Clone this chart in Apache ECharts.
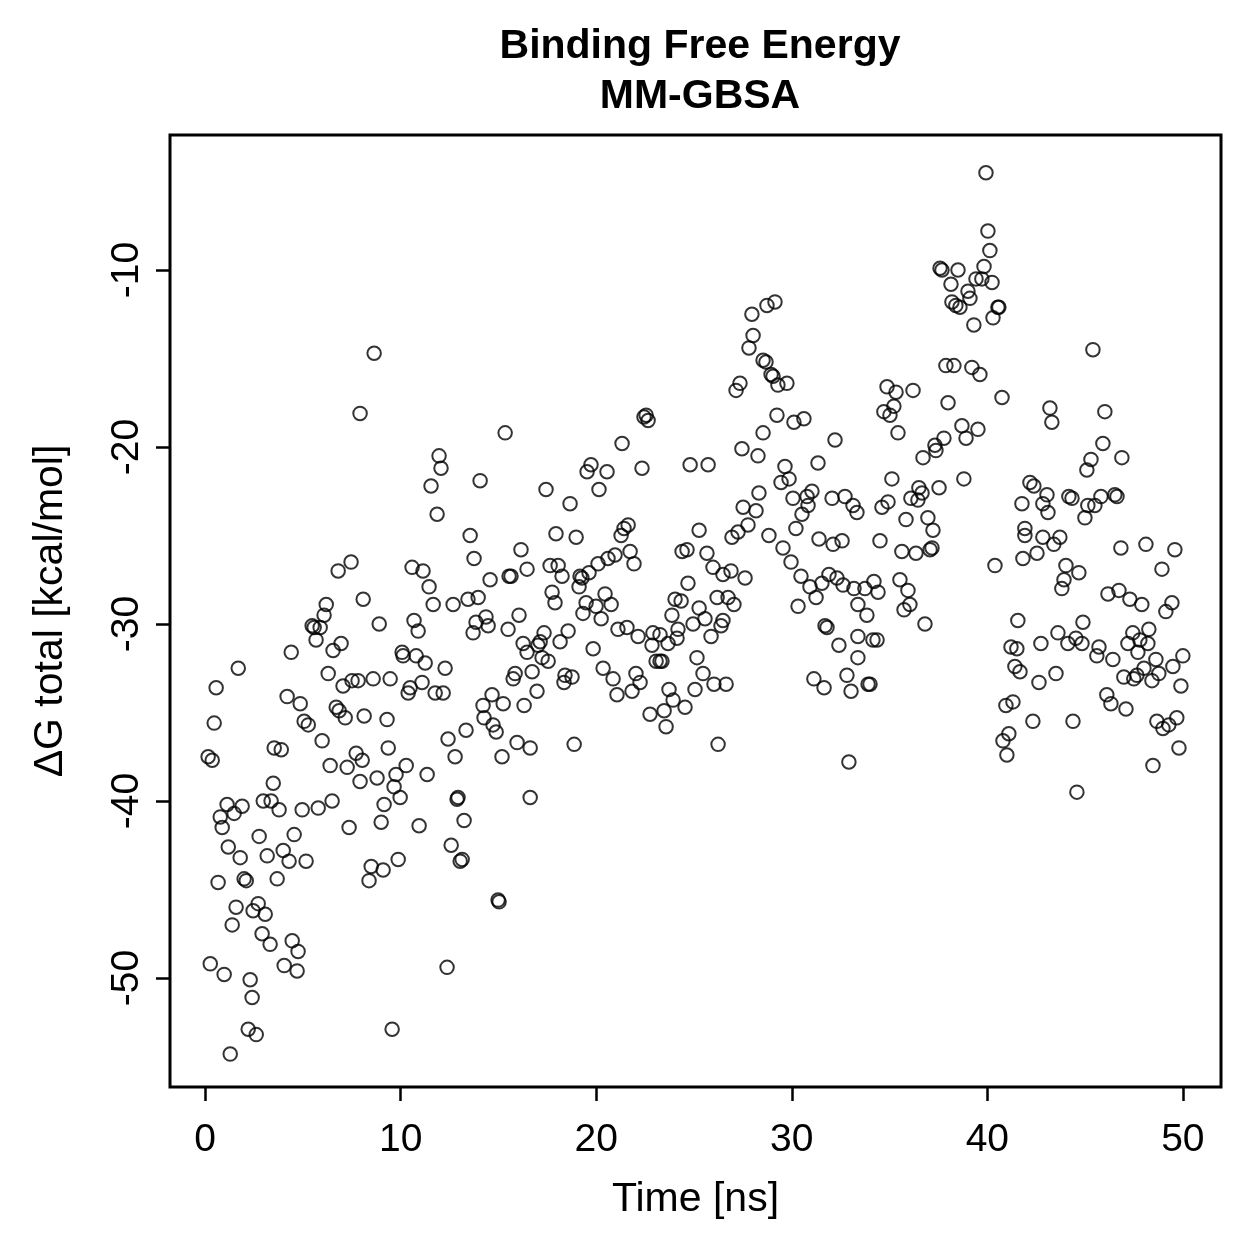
<!DOCTYPE html>
<html>
<head>
<meta charset="utf-8">
<script src="https://cdn.jsdelivr.net/npm/echarts@6/dist/echarts.min.js"></script>
<style>
  html, body { margin: 0; padding: 0; background: #fff; }
  #chart { width: 1259px; height: 1259px; }
</style>
</head>
<body>
<div id="chart"></div>
<script>
// time in ns, delta G in kcal/mol
var timeNs = [
  7.46,6.80,8.08,6.19,6.08,5.47,5.57,5.88,5.67,6.95,6.54,4.40,1.69,6.29,0.56,7.05,7.51,7.82,4.19,4.86,
  6.70,6.85,7.16,8.13,5.06,5.27,0.46,5.98,3.53,3.89,0.15,0.36,7.72,8.03,6.39,7.26,7.92,3.48,1.12,2.97,
  3.37,6.49,1.89,3.78,4.96,5.78,0.77,1.48,0.87,7.36,2.76,4.55,1.18,1.79,3.17,3.99,4.29,5.16,0.66,1.99,
  2.10,3.68,8.38,1.58,2.71,2.45,3.07,1.38,2.91,3.32,4.45,4.75,0.26,0.97,4.04,4.70,2.30,2.40,2.20,2.61,
  1.28,
  8.64,7.92,15.34,11.96,12.06,11.55,14.06,11.86,13.55,16.15,13.75,10.58,11.14,16.46,11.45,14.57,15.54,15.64,11.66,12.68,
  13.44,13.96,8.90,10.68,10.89,14.36,13.85,14.47,13.70,15.49,16.05,16.26,16.46,10.07,10.12,10.79,11.25,12.27,8.59,9.46,
  11.09,15.85,15.75,10.48,10.38,11.76,12.17,14.67,15.24,14.21,16.31,9.30,14.26,14.72,14.88,13.34,12.42,15.95,16.62,9.36,
  12.78,15.18,10.28,9.76,8.79,11.35,9.66,9.97,12.88,12.93,9.15,16.62,13.24,9.00,10.94,12.58,13.14,13.04,9.87,8.49,
  9.10,14.98,15.03,12.37,9.56,
  22.55,22.65,22.44,21.32,24.80,19.73,19.53,20.55,22.34,20.14,17.43,18.66,21.63,21.42,21.27,17.94,18.97,25.26,21.73,20.96,
  20.60,24.39,24.64,20.09,21.93,17.64,18.05,19.63,18.25,19.17,19.27,19.12,17.74,17.89,20.45,19.48,19.99,20.76,19.32,20.25,
  24.69,24.03,24.34,23.87,25.26,21.11,21.57,22.14,22.90,23.26,22.85,23.67,24.18,24.13,24.95,17.33,17.13,17.02,18.56,18.15,
  19.84,23.06,23.26,23.36,25.15,17.23,17.54,20.35,16.72,18.40,18.76,18.35,20.86,22.03,22.24,21.83,21.06,16.97,23.72,25.05,
  23.93,24.54,23.47,22.75,23.57,18.87,
  29.14,28.73,27.96,28.02,27.81,28.53,28.68,28.94,29.04,29.29,29.75,27.35,27.15,29.24,30.11,30.62,28.53,32.21,27.45,28.27,
  25.72,29.65,29.45,29.86,31.34,28.32,30.06,30.78,31.03,30.83,32.06,32.72,33.13,33.33,27.51,28.17,30.52,27.76,27.25,26.94,
  28.83,30.21,31.39,32.11,32.57,29.55,25.66,29.96,25.97,26.48,26.89,27.61,30.47,30.93,31.54,31.90,32.31,32.62,33.18,31.24,
  26.18,26.74,27.04,33.38,30.32,25.56,26.48,26.38,25.87,31.70,31.80,33.38,32.41,33.38,25.46,26.02,26.64,31.13,31.65,32.82,
  33.03,26.23,32.92,
  39.93,40.03,40.13,37.58,37.68,38.50,39.83,39.42,39.72,40.24,38.14,39.01,39.11,38.19,38.39,38.60,40.54,40.59,40.29,39.31,
  37.88,38.29,39.21,39.62,34.87,35.33,36.20,40.75,37.99,35.22,34.71,35.02,38.70,39.52,38.91,35.43,37.78,37.32,37.37,36.71,
  35.12,38.80,36.50,36.66,36.09,36.45,37.53,34.92,34.61,35.84,36.96,37.22,34.51,35.63,36.35,37.07,37.17,40.39,41.77,41.92,
  41.92,41.82,35.53,34.20,33.74,34.41,35.94,36.04,35.74,33.84,36.81,34.15,34.36,33.90,34.00,41.56,41.21,41.51,41.41,41.67,
  40.95,41.31,41.10,40.80,41.00,
  45.40,43.20,43.30,46.01,45.91,46.88,45.30,45.09,42.18,42.38,43.05,42.84,43.10,44.17,44.33,45.81,45.14,45.50,44.99,46.52,
  46.63,42.84,43.71,43.40,42.54,44.02,46.83,48.11,49.59,44.68,48.93,43.92,43.81,46.17,46.73,47.29,47.90,49.44,49.13,44.89,
  43.61,42.74,44.12,44.53,44.84,45.71,45.60,46.42,47.44,48.26,47.19,47.80,48.21,47.70,50.00,49.49,48.62,48.01,48.77,48.42,
  46.98,47.49,47.65,49.90,43.51,42.64,46.11,46.32,47.09,42.33,44.38,48.67,48.98,49.28,49.69,49.80,48.47,44.58
];
var deltaG = [
  -26.5,-27.0,-28.6,-28.9,-29.5,-30.1,-30.2,-30.2,-30.9,-31.1,-31.5,-31.6,-32.5,-32.8,-33.6,-33.5,-33.2,-33.2,-34.1,-34.5,
  -34.7,-34.9,-35.3,-35.2,-35.5,-35.7,-35.6,-36.6,-37.0,-37.1,-37.5,-37.7,-37.3,-37.7,-38.0,-38.1,-38.9,-39.0,-40.2,-40.0,
  -40.0,-40.0,-40.3,-40.5,-40.5,-40.4,-40.9,-40.7,-41.5,-41.5,-42.0,-41.9,-42.6,-43.2,-43.1,-42.8,-43.4,-43.4,-44.6,-44.4,
  -44.5,-44.4,-44.5,-46.0,-45.8,-46.2,-46.4,-47.0,-47.5,-48.1,-47.9,-48.5,-49.2,-49.8,-49.3,-49.6,-50.1,-51.1,-52.9,-53.2,
  -54.3,
  -14.7,-18.1,-19.2,-20.5,-21.2,-22.2,-21.9,-23.8,-25.0,-25.8,-26.3,-26.8,-27.0,-26.9,-27.9,-27.5,-27.3,-27.3,-28.9,-28.9,
  -28.6,-28.5,-30.0,-29.8,-30.4,-29.6,-29.9,-30.1,-30.5,-30.3,-29.5,-31.1,-31.6,-31.6,-31.8,-31.8,-32.2,-32.5,-33.1,-33.1,
  -33.3,-32.8,-33.1,-33.6,-33.9,-33.9,-33.9,-34.0,-34.5,-34.6,-34.6,-35.4,-35.3,-35.7,-36.1,-36.0,-36.5,-36.7,-37.0,-37.0,
  -37.5,-37.5,-38.0,-38.5,-38.7,-38.5,-39.2,-39.8,-39.9,-39.8,-40.2,-39.8,-41.1,-41.2,-41.4,-42.5,-43.3,-43.4,-43.3,-43.7,
  -43.9,-45.6,-45.7,-49.4,-52.9,
  -18.2,-18.5,-18.3,-19.8,-21.0,-21.0,-21.4,-21.4,-21.2,-22.4,-22.4,-23.2,-24.4,-24.6,-25.0,-24.9,-25.1,-24.7,-25.9,-26.1,
  -26.3,-25.9,-25.8,-26.6,-26.6,-26.7,-26.7,-27.1,-27.3,-27.3,-27.4,-27.9,-28.2,-28.8,-28.3,-28.8,-29.0,-28.9,-29.4,-29.7,
  -27.7,-28.6,-28.7,-29.5,-29.1,-30.3,-30.2,-30.7,-30.5,-30.6,-31.2,-31.1,-30.3,-30.8,-30.0,-30.5,-31.0,-31.2,-30.4,-31.0,
  -31.4,-32.1,-32.1,-32.1,-31.9,-31.9,-32.1,-32.5,-32.7,-32.9,-33.0,-33.3,-33.1,-32.8,-33.3,-33.8,-34.0,-33.8,-33.7,-33.7,
  -34.3,-34.7,-34.9,-35.1,-35.8,-36.8,
  -11.8,-12.0,-12.5,-13.7,-14.4,-15.1,-15.2,-15.9,-16.0,-16.5,-16.4,-16.4,-16.8,-18.2,-18.6,-18.4,-19.2,-19.6,-20.1,-20.5,
  -21.0,-21.1,-22.0,-21.8,-20.9,-22.6,-22.9,-22.8,-22.5,-23.3,-22.9,-22.8,-23.3,-23.7,-23.4,-23.6,-23.8,-24.4,-24.8,-25.1,
  -25.0,-24.6,-25.2,-25.5,-25.3,-25.7,-26.0,-26.5,-26.8,-27.2,-27.0,-27.4,-27.3,-27.9,-27.7,-27.2,-27.4,-27.8,-28.0,-28.5,
  -28.5,-28.5,-28.9,-28.9,-29.0,-29.7,-29.8,-30.1,-30.7,-30.1,-30.2,-30.7,-31.2,-31.9,-32.8,-33.4,-33.4,-33.1,-33.6,-32.9,
  -33.8,-36.8,-37.8,
  -4.5,-7.8,-8.9,-9.9,-10.0,-10.0,-9.8,-10.5,-10.5,-10.7,-10.8,-11.2,-11.6,-11.8,-12.0,-12.1,-12.1,-12.1,-12.7,-13.1,
  -15.4,-15.4,-15.5,-15.9,-16.6,-16.9,-16.8,-17.2,-17.5,-17.7,-18.0,-18.2,-18.8,-19.0,-19.5,-19.2,-19.5,-19.9,-20.2,-20.6,
  -21.8,-21.8,-22.3,-22.6,-22.9,-23.0,-22.3,-23.1,-23.4,-24.1,-24.0,-24.7,-25.3,-25.9,-26.0,-25.8,-25.7,-26.7,-23.2,-24.6,
  -25.0,-26.3,-27.5,-27.6,-28.0,-28.2,-28.1,-28.9,-29.2,-29.5,-30.0,-30.9,-30.9,-33.4,-33.4,-29.8,-31.3,-31.4,-32.4,-32.7,
  -34.6,-34.4,-36.2,-36.6,-37.4,
  -14.5,-17.8,-18.6,-18.0,-19.8,-20.6,-20.7,-21.3,-22.0,-22.2,-22.7,-23.2,-23.7,-22.8,-22.9,-22.8,-23.3,-23.3,-24.0,-22.7,
  -22.8,-25.1,-25.1,-25.5,-26.0,-26.7,-25.7,-25.5,-25.8,-27.1,-26.9,-27.5,-28.0,-28.3,-28.1,-28.6,-28.9,-28.8,-29.3,-29.9,
  -30.5,-31.1,-31.1,-30.8,-31.1,-31.3,-31.8,-32.0,-30.5,-30.3,-31.1,-30.9,-31.1,-31.6,-31.8,-32.4,-32.0,-32.5,-32.8,-33.2,
  -33.0,-33.1,-32.9,-33.5,-32.8,-33.3,-34.0,-34.5,-34.8,-35.5,-35.5,-35.5,-35.9,-35.7,-35.3,-37.0,-38.0,-39.5
];
var xTicks = [0, 10, 20, 30, 40, 50];
var yTicks = [-50, -40, -30, -20, -10];

var points = timeNs.map(function (t, i) { return [t, deltaG[i]]; });

var font = '"Liberation Sans", Arial, Helvetica, sans-serif';
var myChart = echarts.init(document.getElementById('chart'));

var option = {
  animation: false,
  backgroundColor: '#fff',
  textStyle: { fontFamily: font, color: '#000' },
  title: {
    text: 'Binding Free Energy\nMM-GBSA',
    left: 695,
    top: 17,
    textAlign: 'center',
    textStyle: {
      fontFamily: font,
      fontSize: 41,
      fontWeight: 'bold',
      lineHeight: 50,
      color: '#000'
    }
  },
  grid: {
    left: 170,
    right: 38,
    top: 135,
    bottom: 172,
    show: true,
    borderColor: '#000',
    borderWidth: 3,
    backgroundColor: 'transparent'
  },
  xAxis: {
    type: 'value',
    min: -1.8,
    max: 51.95,
    splitLine: { show: false },
    axisLine: { show: false, onZero: false },
    axisTick: {
      show: true,
      customValues: xTicks,
      length: 14,
      lineStyle: { color: '#000', width: 2.5 }
    },
    axisLabel: {
      customValues: xTicks,
      fontSize: 39,
      margin: 34,
      color: '#000',
      fontFamily: font
    },
    name: 'Time [ns]',
    nameLocation: 'middle',
    nameGap: 92,
    nameTextStyle: { fontSize: 41, color: '#000', fontFamily: font }
  },
  yAxis: {
    type: 'value',
    min: -56.16,
    max: -2.37,
    splitLine: { show: false },
    axisLine: { show: false, onZero: false },
    axisTick: {
      show: true,
      customValues: yTicks,
      length: 14,
      lineStyle: { color: '#000', width: 2.5 }
    },
    axisLabel: {
      customValues: yTicks,
      rotate: 90,
      fontSize: 39,
      margin: 23,
      color: '#000',
      fontFamily: font,
      formatter: function (v) { return String(v); }
    },
    name: 'ΔG total [kcal/mol]',
    nameLocation: 'middle',
    nameGap: 99,
    nameRotate: 90,
    nameTextStyle: { fontSize: 41, color: '#000', fontFamily: font }
  },
  series: [
    {
      name: 'MM-GBSA',
      type: 'scatter',
      symbol: 'circle',
      symbolSize: 13.5,
      itemStyle: {
        color: 'rgba(0,0,0,0)',
        borderColor: '#000',
        borderWidth: 2
      },
      data: points
    }
  ]
};
myChart.setOption(option);
</script>
</body>
</html>
